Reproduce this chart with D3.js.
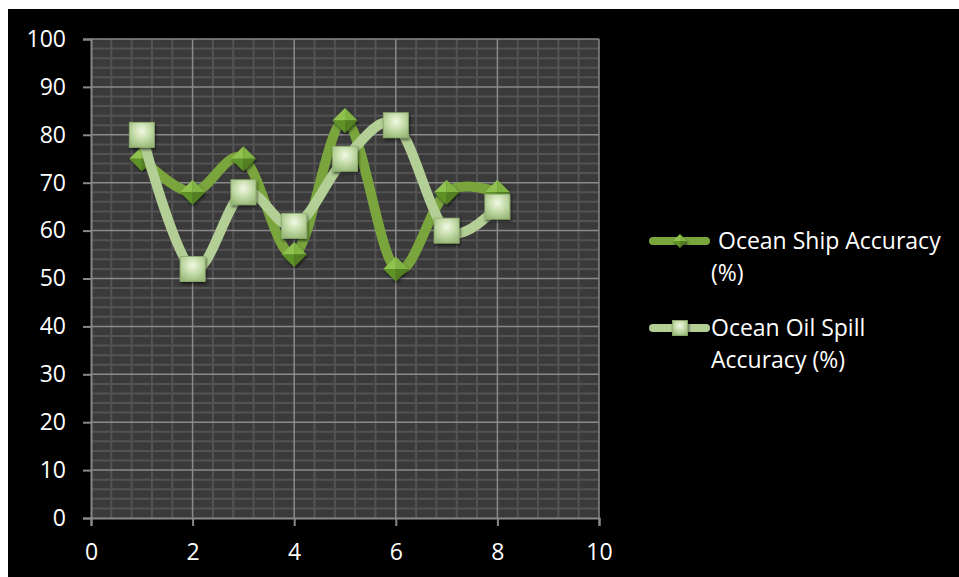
<!DOCTYPE html>
<html>
<head>
<meta charset="utf-8">
<script src="https://cdn.jsdelivr.net/npm/d3@7"></script>
<style>
  html, body { margin: 0; padding: 0; background: #ffffff; }
  svg { display: block; }
</style>
</head>
<body>
<svg id="chart" width="959" height="577"></svg>
<script>
// Series data
const xValues = [1, 2, 3, 4, 5, 6, 7, 8];
const shipAccuracy = [75, 68, 75, 55, 83, 52, 68, 68];
const oilSpillAccuracy = [80, 52, 68, 61, 75, 82, 60, 65];
const seriesNames = ["Ocean Ship Accuracy (%)", "Ocean Oil Spill Accuracy (%)"];
const legendLines = [["Ocean Ship Accuracy", "(%)"], ["Ocean Oil Spill", "Accuracy (%)"]];
const xTicks = [0, 2, 4, 6, 8, 10];
const yTicks = [0, 10, 20, 30, 40, 50, 60, 70, 80, 90, 100];

const svg = d3.select("#chart");
const W = 959, H = 577;
const FONT = "'Open Sans', 'Noto Sans', sans-serif";

// chart panel
svg.append("rect").attr("x", 8).attr("y", 9).attr("width", W - 8).attr("height", H - 9).attr("fill", "#000");

const plot = { left: 91, right: 599, top: 39, bottom: 518 };
const x = d3.scaleLinear().domain([0, 10]).range([plot.left, plot.right]);
const y = d3.scaleLinear().domain([0, 100]).range([plot.bottom, plot.top]);

const defs = svg.append("defs");

// marker shading
const sq = defs.append("radialGradient").attr("id", "sqGrad")
  .attr("cx", "50%").attr("cy", "35%").attr("r", "70%");
sq.append("stop").attr("offset", "0%").attr("stop-color", "#f1f8e6");
sq.append("stop").attr("offset", "45%").attr("stop-color", "#c9dfae");
sq.append("stop").attr("offset", "100%").attr("stop-color", "#98b878");

const shadow = defs.append("filter").attr("id", "shadow").attr("x", "-30%").attr("y", "-30%").attr("width", "160%").attr("height", "160%");
shadow.append("feDropShadow").attr("dx", 1).attr("dy", 2).attr("stdDeviation", 1.5).attr("flood-color", "#000").attr("flood-opacity", 0.6);

// plot background
svg.append("rect").attr("x", plot.left).attr("y", plot.top)
  .attr("width", plot.right - plot.left).attr("height", plot.bottom - plot.top)
  .attr("fill", "#3a3a3a");

// minor grid
const gMinor = svg.append("g");
const xMinor = d3.range(0, 10.0001, 0.4).filter(v => Math.abs(v / 2 - Math.round(v / 2)) > 1e-6);
const yMinor = d3.range(0, 100.0001, 2).filter(v => v % 10 !== 0);
gMinor.selectAll(".xm").data(xMinor).join("line")
  .attr("x1", d => x(d)).attr("x2", d => x(d)).attr("y1", plot.top).attr("y2", plot.bottom)
  .attr("stroke", "#535353").attr("stroke-width", 2);
gMinor.selectAll(".ym").data(yMinor).join("line")
  .attr("x1", plot.left).attr("x2", plot.right).attr("y1", d => y(d)).attr("y2", d => y(d))
  .attr("stroke", "#535353").attr("stroke-width", 2);

// major grid
const gMajor = svg.append("g");
gMajor.selectAll(".xM").data(xTicks.filter(v => v > 0)).join("line")
  .attr("x1", d => x(d)).attr("x2", d => x(d)).attr("y1", plot.top).attr("y2", plot.bottom)
  .attr("stroke", "#8a8a8a").attr("stroke-width", 1.5);
gMajor.selectAll(".yM").data(yTicks.filter(v => v > 0)).join("line")
  .attr("x1", plot.left).attr("x2", plot.right).attr("y1", d => y(d)).attr("y2", d => y(d))
  .attr("stroke", "#8a8a8a").attr("stroke-width", 1.5);

// axes
const xAxis = svg.append("g").attr("transform", `translate(0,${plot.bottom})`)
  .call(d3.axisBottom(x).tickValues(xTicks).tickSize(8).tickPadding(18).tickFormat(d3.format("d")));
const yAxis = svg.append("g").attr("transform", `translate(${plot.left},0)`)
  .call(d3.axisLeft(y).tickValues(yTicks).tickSize(8).tickPadding(17).tickFormat(d3.format("d")));
[xAxis, yAxis].forEach(a => {
  a.select(".domain").attr("stroke", "#888").attr("stroke-width", 2);
  a.selectAll(".tick line").attr("stroke", "#888").attr("stroke-width", 2);
  a.selectAll(".tick text").attr("fill", "#fff").style("font-family", FONT).style("font-size", "23px");
});

// smoothed series lines
const line = d3.line().x(d => x(d.x)).y(d => y(d.y)).curve(d3.curveCardinal.tension(0));
const shipPts = xValues.map((v, i) => ({ x: v, y: shipAccuracy[i] }));
const oilPts = xValues.map((v, i) => ({ x: v, y: oilSpillAccuracy[i] }));

const SHIP = "#79a53c", OIL = "#b3cf95";

function diamond(g, cx, cy, r) {
  const t = [cx, cy - r], b = [cx, cy + r], l = [cx - r, cy], rt = [cx + r, cy], c = [cx, cy];
  const faces = [
    [[t, l, c], "#8fc24f"],
    [[t, rt, c], "#7fb342"],
    [[l, b, c], "#5f9228"],
    [[rt, b, c], "#527f20"]
  ];
  const grp = g.append("g").attr("filter", "url(#shadow)");
  faces.forEach(([p, col]) => grp.append("path").attr("d", "M" + p.map(q => q.join(",")).join("L") + "Z").attr("fill", col));
}
function square(g, cx, cy, s) {
  g.append("rect").attr("x", cx - s / 2).attr("y", cy - s / 2).attr("width", s).attr("height", s)
    .attr("fill", "url(#sqGrad)").attr("stroke", "#8fae70").attr("stroke-width", 0.8)
    .attr("filter", "url(#shadow)");
}

const gShip = svg.append("g");
gShip.append("path").datum(shipPts).attr("d", line).attr("fill", "none")
  .attr("stroke", SHIP).attr("stroke-width", 10).attr("stroke-linecap", "round").attr("stroke-linejoin", "round");
shipPts.forEach(p => diamond(gShip, x(p.x), y(p.y), 12.5));

const gOil = svg.append("g");
gOil.append("path").datum(oilPts).attr("d", line).attr("fill", "none")
  .attr("stroke", OIL).attr("stroke-width", 10).attr("stroke-linecap", "round").attr("stroke-linejoin", "round");
oilPts.forEach(p => square(gOil, x(p.x), y(p.y), 25));

// legend
const legend = svg.append("g");
const legendY = [241, 328];
const legendColors = [SHIP, OIL];
legendY.forEach((ly, i) => {
  legend.append("line").attr("x1", 653).attr("x2", 706).attr("y1", ly).attr("y2", ly)
    .attr("stroke", legendColors[i]).attr("stroke-width", 8).attr("stroke-linecap", "round");
  if (i === 0) diamond(legend, 680, ly, 7);
  else square(legend, 680, ly, 15);
  const tx = i === 0 ? 718 : 711;
  const t = legend.append("text").attr("fill", "#fff").style("font-family", FONT).style("font-size", "23px");
  t.append("tspan").attr("x", tx).attr("y", ly + 8).text(legendLines[i][0]);
  t.append("tspan").attr("x", 711).attr("y", ly + 40).text(legendLines[i][1]);
});
</script>
</body>
</html>
